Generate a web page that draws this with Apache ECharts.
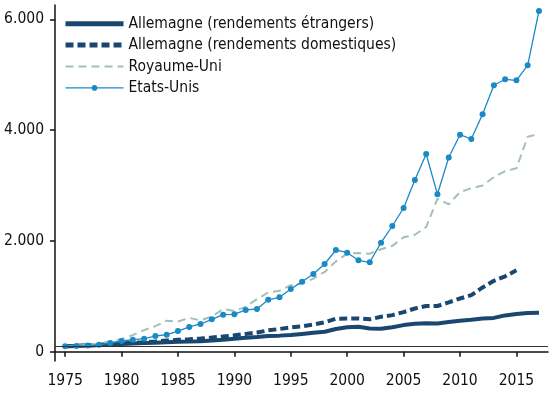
<!DOCTYPE html>
<html>
<head>
<meta charset="utf-8">
<script src="https://cdn.jsdelivr.net/npm/echarts@6/dist/echarts.min.js"></script>
<style>html,body{margin:0;padding:0;background:#fff}#c{width:556px;height:394px}</style>
</head>
<body>
<div id="c"></div>
<script>
const years = [1975,1976,1977,1978,1979,1980,1981,1982,1983,1984,1985,1986,1987,1988,1989,1990,1991,1992,1993,1994,1995,1996,1997,1998,1999,2000,2001,2002,2003,2004,2005,2006,2007,2008,2009,2010,2011,2012,2013,2014,2015,2016,2017];
const deForeign = [100,105,112,120,130,140,148,155,162,170,178,182,188,200,215,235,250,265,285,290,300,320,340,360,410,440,450,420,415,440,480,505,512,510,535,560,578,600,610,655,680,700,703];
const deDomestic = [100,105,112,122,135,148,160,172,185,200,215,225,238,255,275,295,320,345,385,410,440,460,490,530,595,600,600,585,630,660,715,780,825,825,890,960,1020,1160,1280,1360,1470];
const uk = [100,110,125,150,185,230,300,390,460,560,545,610,565,635,770,735,810,950,1070,1100,1200,1230,1320,1440,1630,1770,1780,1770,1850,1910,2065,2110,2250,2760,2660,2880,2950,3000,3150,3260,3310,3880,3930];
const us = [100,105,110,125,157,193,217,235,283,307,373,446,500,585,668,675,753,771,936,982,1132,1264,1402,1583,1836,1787,1650,1614,1968,2269,2594,3100,3569,2841,3505,3917,3839,4285,4809,4917,4899,5170,6150];
const xTicks = [1975,1980,1985,1990,1995,2000,2005,2010,2015];
const yTicks = [0,2000,4000,6000];
const names = ['Allemagne (rendements étrangers)','Allemagne (rendements domestiques)','Royaume-Uni','Etats-Unis'];

const pair = arr => arr.map((v, i) => [years[i], v]);
const FONT = '"DejaVu Sans Condensed", "DejaVu Sans", sans-serif';
const chart = echarts.init(document.getElementById('c'));
chart.setOption({
  animation: false,
  grid: {left: 55, right: 8, top: 5, bottom: 33},
  legend: {
    orient: 'vertical', left: 58, top: 10.7,
    itemWidth: 58, itemHeight: 7, itemGap: 5.4,
    textStyle: {fontFamily: FONT, fontSize: 15.5, color: '#111', lineHeight: 14},
    data: [
      {name: names[0], itemStyle: {opacity: 0}, lineStyle: {width: 5}},
      {name: names[1], itemStyle: {opacity: 0}, lineStyle: {width: 5}},
      {name: names[2], itemStyle: {opacity: 0}, lineStyle: {width: 2}},
      {name: names[3], lineStyle: {width: 1.3}}
    ]
  },
  xAxis: {
    type: 'value', min: 1974.1, max: 2017.8,
    splitLine: {show: false},
    axisLine: {lineStyle: {color: '#111', width: 1.5}},
    axisTick: {customValues: xTicks, length: 5, lineStyle: {color: '#111', width: 1.5}},
    axisLabel: {customValues: xTicks, formatter: v => String(v), margin: 12, fontFamily: FONT, fontSize: 15.5, color: '#111'}
  },
  yAxis: {
    type: 'value', min: -168, max: 6258,
    splitLine: {show: false},
    axisLine: {show: true, lineStyle: {color: '#111', width: 1.5}},
    axisTick: {show: true, customValues: yTicks, length: 5, lineStyle: {color: '#111', width: 1.5}},
    axisLabel: {customValues: yTicks, margin: 11, fontFamily: FONT, fontSize: 15.5, color: '#111',
      formatter: v => String(v).replace(/\B(?=(\d{3})+(?!\d))/g, '.')}
  },
  series: [
    {name: names[0], type: 'line', data: pair(deForeign), symbol: 'none', color: '#1a476f',
     lineStyle: {width: 4, color: '#1a476f'},
     markLine: {silent: true, symbol: ['none','none'], label: {show: false},
       lineStyle: {color: '#333', width: 1, type: 'solid'}, data: [{yAxis: 100}]}},
    {name: names[1], type: 'line', data: pair(deDomestic), symbol: 'none', color: '#1a476f',
     lineStyle: {width: 4, color: '#1a476f', type: [8, 4]}},
    {name: names[2], type: 'line', data: pair(uk), symbol: 'none', color: '#a3bfb8',
     lineStyle: {width: 2, color: '#a3bfb8', type: [8, 5]}},
    {name: names[3], type: 'line', data: pair(us), symbol: 'circle', symbolSize: 6, color: '#1a8ac6',
     itemStyle: {color: '#1a8ac6'}, lineStyle: {width: 1.3, color: '#1a8ac6'}}
  ]
});
</script>
</body>
</html>
